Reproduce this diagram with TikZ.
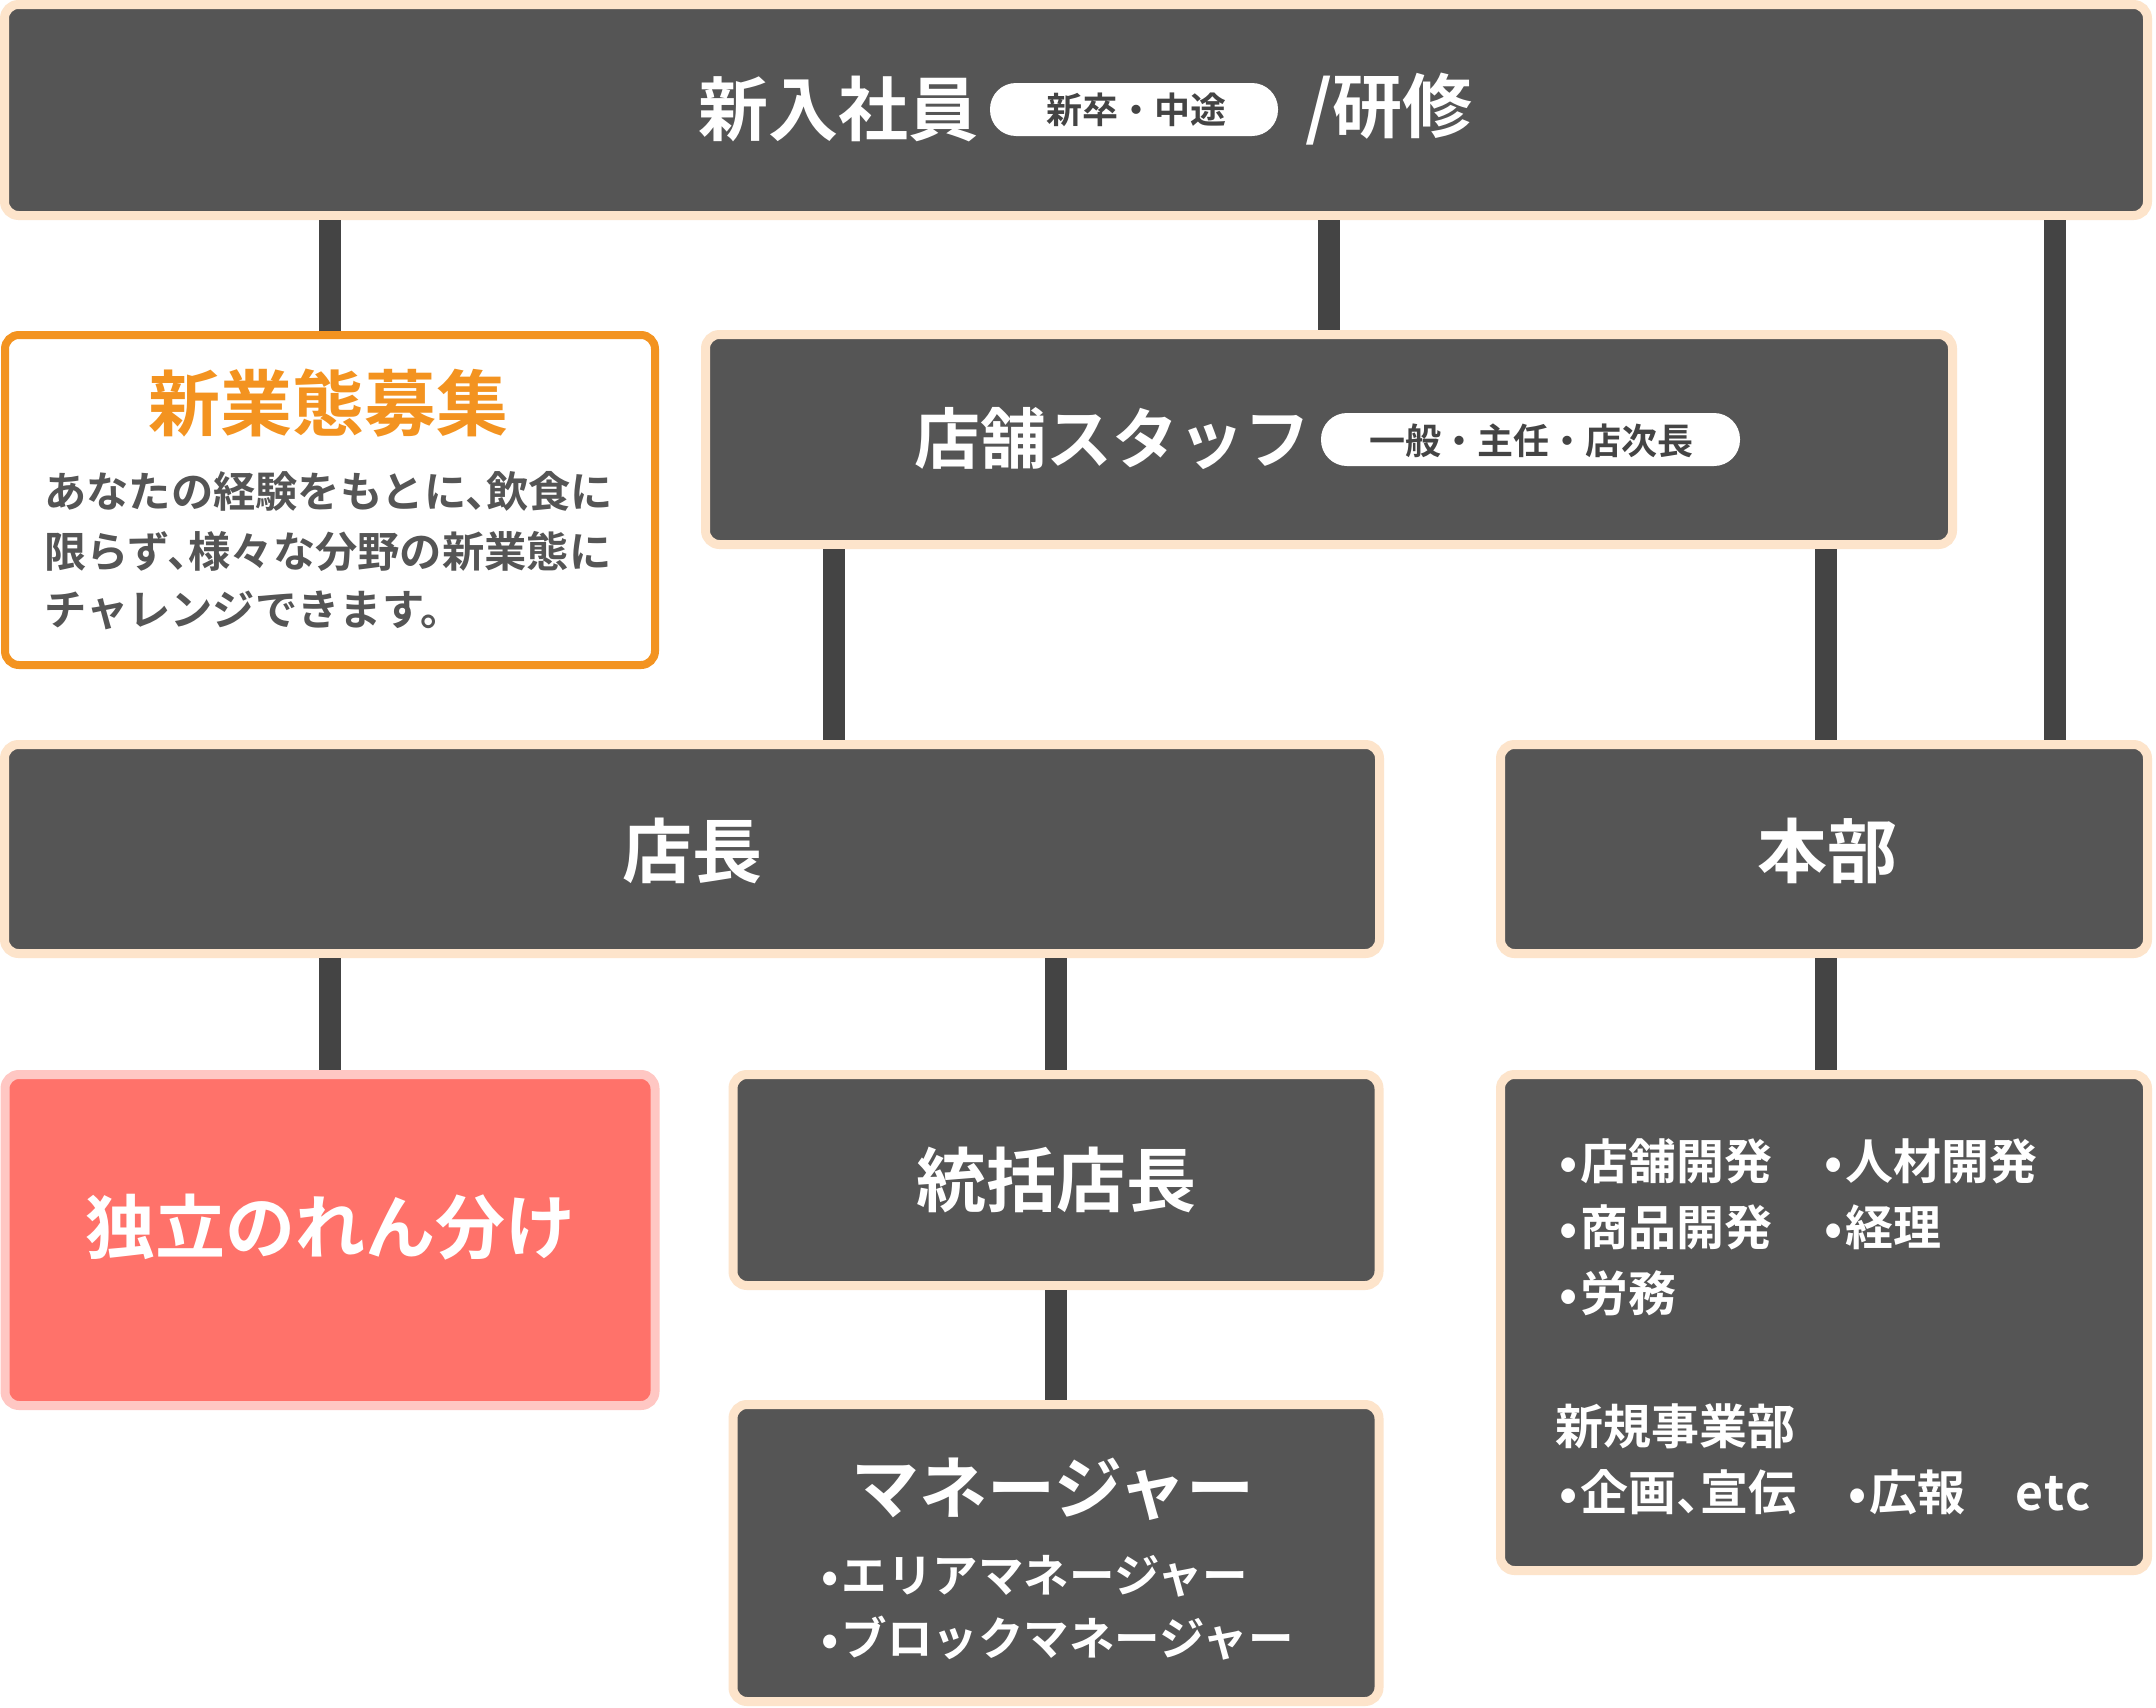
\documentclass[tikz,border=0pt]{standalone}
\usepackage{fontspec}
\setmainfont{Noto Sans CJK JP}[BoldFont={Noto Sans CJK JP Bold}]
\definecolor{dark}{HTML}{555555}
\definecolor{peach}{HTML}{FDE4CB}
\definecolor{lineg}{HTML}{444444}
\definecolor{orng}{HTML}{F39320}
\definecolor{pinkf}{HTML}{FF726A}
\definecolor{pinkb}{HTML}{FFC7C3}
\definecolor{pilltxt}{HTML}{444444}
\newcommand{\fsz}[1]{\fontsize{#1pt}{#1pt}\selectfont}
\newcommand{\hb}{\makebox[0.5em][c]{•}}
\newcommand{\tou}{、\kern-0.5em}
\begin{document}
\begin{tikzpicture}[x=1pt,y=-1pt,
  box/.style={draw=peach, line width=9pt, fill=dark, rounded corners=14pt, inner sep=0pt},
  conn/.style={draw=lineg, line width=22pt},
  txt/.style={inner sep=0pt},
  pill/.style={fill=white, rounded corners=26pt, inner sep=0pt, minimum height=53pt},
]
\fill[white] (0,0) rectangle (2156,1708);
\useasboundingbox (0,0) rectangle (2156,1708);

% boxes
\node[box, minimum width=2143pt, minimum height=211pt] (top) at (1076,110) {};
\node[draw=orng, line width=8pt, fill=white, rounded corners=14pt, inner sep=0pt, minimum width=650pt, minimum height=330pt] (new) at (330,500) {};
\node[box, minimum width=1247pt, minimum height=210pt] (staff) at (1329,439.5) {};
\node[box, minimum width=1375pt, minimum height=209pt] (mgr) at (692,849) {};
\node[box, minimum width=647pt, minimum height=209pt] (hq) at (1824,849) {};
\node[draw=pinkb, line width=9pt, fill=pinkf, rounded corners=14pt, inner sep=0pt, minimum width=650pt, minimum height=331pt] (ind) at (330,1240) {};
\node[box, minimum width=646pt, minimum height=211pt] (gm) at (1056,1180) {};
\node[box, minimum width=646pt, minimum height=297pt] (mane) at (1056,1553) {};
\node[box, minimum width=647pt, minimum height=496pt] (dept) at (1824,1322.5) {};

% connectors
\coordinate (xa) at (2055,0);
\coordinate (xb) at (834,0);
\coordinate (xc) at (1826,0);
\draw[conn] (top.south -| new.north) -- (new.north);
\draw[conn] (top.south -| staff.north) -- (staff.north);
\draw[conn] (top.south -| xa) -- (hq.north -| xa);
\draw[conn] (staff.south -| xb) -- (mgr.north -| xb);
\draw[conn] (staff.south -| xc) -- (hq.north -| xc);
\draw[conn] (mgr.south -| ind.north) -- (ind.north);
\draw[conn] (mgr.south -| gm.north) -- (gm.north);
\draw[conn] (hq.south -| xc) -- (dept.north -| xc);
\draw[conn] (gm.south) -- (mane.north);

% top texts
\node[txt, text=white, font=\bfseries\fsz{70}] (t1) at (838,109) {新入社員};
\node[pill, minimum width=288pt] (p1) at (1134,109.5) {};
\node[txt, text=pilltxt, font=\bfseries\fsz{36}] (p1t) at (1136,110) {新卒・中途};
\node[txt, text=white, font=\bfseries\fsz{70}] (t2) at (1389,109) {/研修};

% staff
\node[txt, text=white, font=\bfseries\fsz{66}] (s1) at (1112,439) {店舗スタッフ};
\node[pill, minimum width=419pt] (p2) at (1530.5,439.5) {};
\node[txt, text=pilltxt, font=\bfseries\fsz{36}] (p2t) at (1531,441) {一般・主任・店次長};

% new business
\node[txt, text=orng, font=\bfseries\fsz{72}] (n1) at (328,403) {新業態募集};
\node[txt, text=dark, font=\bfseries\fsz{42.3}, anchor=west] (n2) at (44,491) {あなたの経験をもとに\tou 飲食に};
\node[txt, text=dark, font=\bfseries\fsz{42.3}, anchor=west] (n3) at (44,551) {限らず\tou 様々な分野の新業態に};
\node[txt, text=dark, font=\bfseries\fsz{42.3}, anchor=west] (n4) at (44,610) {チャレンジできます。};

% other titles
\node[txt, text=white, font=\bfseries\fsz{70}] (m1) at (692,851) {店長};
\node[txt, text=white, font=\bfseries\fsz{70}] (h1) at (1827,851) {本部};
\node[txt, text=white, font=\bfseries\fsz{70}] (i1) at (330,1227) {独立のれん分け};
\node[txt, text=white, font=\bfseries\fsz{70}] (g1) at (1056,1180) {統括店長};
\node[txt, text=white, font=\bfseries\fsz{68}] (ma1) at (1053,1489) {マネージャー};
\node[txt, text=white, font=\bfseries\fsz{45.5}, anchor=west] (ma2) at (819,1576) {\hb エリアマネージャー};
\node[txt, text=white, font=\bfseries\fsz{45.5}, anchor=west] (ma3) at (819,1638) {\hb ブロックマネージャー};

% department list
\begin{scope}[every node/.style={txt, text=white, font=\bfseries\fsz{48}, anchor=base west}]
\node (d1) at (1556,1179) {\hb 店舗開発};
\node (d2) at (1821,1179) {\hb 人材開発};
\node (d3) at (1556,1245) {\hb 商品開発};
\node (d4) at (1821,1245) {\hb 経理};
\node (d5) at (1556,1311) {\hb 労務};
\node (d6) at (1555,1444) {新規事業部};
\node (d7) at (1556,1510) {\hb 企画\tou 宣伝};
\node (d8) at (1845,1510) {\hb 広報};
\node (d9) at (2015,1510) {\addfontfeatures{LetterSpace=4}etc};
\end{scope}
\end{tikzpicture}
\end{document}
